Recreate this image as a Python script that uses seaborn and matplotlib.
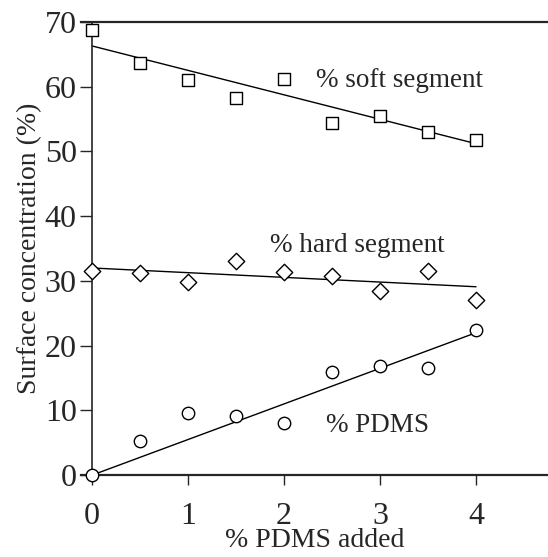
import numpy as np
import pandas as pd
import matplotlib
matplotlib.use("Agg")
import matplotlib.pyplot as plt
import seaborn as sns

# values
pdms_added = [0, 0.5, 1, 1.5, 2, 2.5, 3, 3.5, 4]
soft_seg = [68.7, 63.6, 61.1, 58.2, 61.2, 54.4, 55.5, 53.0, 51.8]
hard_seg = [31.5, 31.3, 29.8, 33.1, 31.4, 30.8, 28.4, 31.6, 27.0]
pdms_surf = [0.0, 5.3, 9.6, 9.2, 8.1, 16.0, 16.9, 16.6, 22.4]

# fitted lines (end points)
fit_x = [0, 4]
soft_fit = [66.3, 51.2]
hard_fit = [32.0, 29.1]
pdms_fit = [0.0, 22.0]

yticks = [0, 10, 20, 30, 40, 50, 60, 70]
xticks = [0, 1, 2, 3, 4]

sns.set_style("ticks")
plt.rcParams['font.family'] = ['Liberation Serif', 'DejaVu Serif']

df = pd.DataFrame({"x": pdms_added, "soft": soft_seg, "hard": hard_seg, "pdms": pdms_surf})
fit = pd.DataFrame({"x": fit_x, "soft": soft_fit, "hard": hard_fit, "pdms": pdms_fit})

fig = plt.figure(figsize=(5.48, 5.57), dpi=100)
ax = fig.add_axes([0.147, 0.147, 0.853, 0.8135])

for col in ["soft", "hard", "pdms"]:
    sns.lineplot(data=fit, x="x", y=col, ax=ax, color="black", linewidth=1)

mk = dict(s=80, facecolor="white", edgecolor="black", linewidth=1, zorder=3, clip_on=False)
sns.scatterplot(data=df, x="x", y="soft", marker="s", ax=ax, **mk)
sns.scatterplot(data=df, x="x", y="hard", marker="D", ax=ax, s=70,
                facecolor="white", edgecolor="black", linewidth=1, zorder=3, clip_on=False)
sns.scatterplot(data=df, x="x", y="pdms", marker="o", ax=ax, **mk)

ax.text(2.33, 61, "% soft segment", fontsize=19.5, va="center", ha="left")
ax.text(1.85, 35.5, "% hard segment", fontsize=19.5, va="center", ha="left")
ax.text(2.44, 7.6, "% PDMS", fontsize=19.5, va="center", ha="left")

ax.set_xlim(-0.12, 4.75)
ax.set_ylim(0, 70)
ax.set_xticks(xticks)
ax.set_yticks(yticks)
ax.spines["left"].set_position(("data", 0))
ax.spines["right"].set_visible(False)
ax.spines["top"].set_linewidth(1.6)
ax.spines["bottom"].set_linewidth(1.6)
ax.spines["left"].set_linewidth(1.2)
ax.tick_params(axis="y", direction="out", length=9, width=1, labelsize=23, pad=2)
ax.tick_params(axis="x", direction="out", length=7, width=1, labelsize=23, pad=12)

ax.set_xlabel("% PDMS added", fontsize=20, labelpad=-2)
ax.set_ylabel("Surface concentration (%)", fontsize=20, labelpad=2)

fig.savefig("out.png", dpi=100)
